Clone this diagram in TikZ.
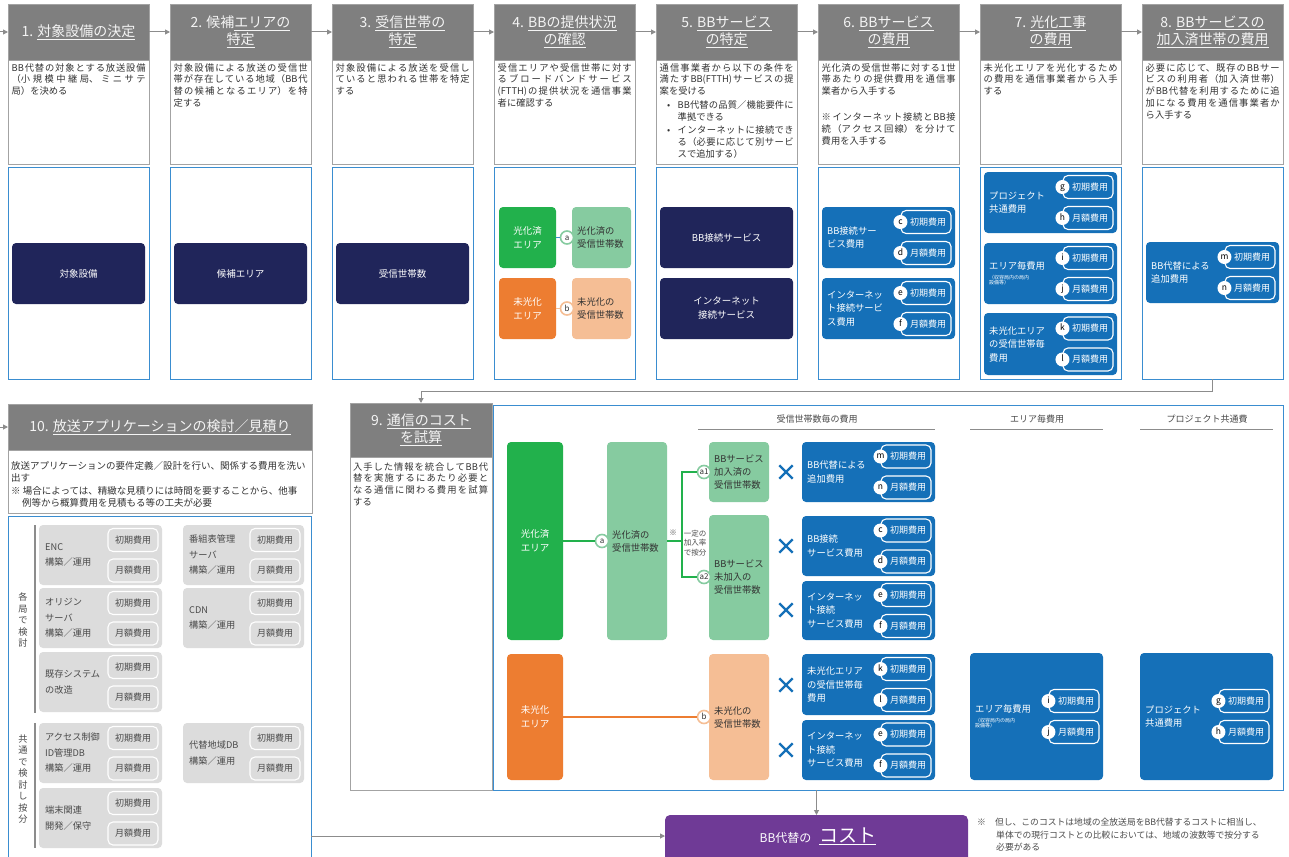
\documentclass[tikz,border=0pt]{standalone}
\usepackage{fontspec}
\setmainfont{Noto Sans CJK JP}
\usetikzlibrary{arrows.meta,shapes.misc}
\XeTeXlinebreaklocale "ja"
\XeTeXlinebreakskip=0pt plus 3pt
\XeTeXlinebreakpenalty=10000
\definecolor{hdr}{HTML}{7F7F7F}
\definecolor{hdrline}{HTML}{A3A3A3}
\definecolor{hdrtxt}{HTML}{F4F4F4}
\definecolor{navy}{HTML}{20255A}
\definecolor{grn}{HTML}{22B14C}
\definecolor{lgrn}{HTML}{86CBA0}
\definecolor{org}{HTML}{ED7D31}
\definecolor{lorg}{HTML}{F5BE95}
\definecolor{blu}{HTML}{1570B8}
\definecolor{bord}{HTML}{3A8DD0}
\definecolor{gbox}{HTML}{DCDCDC}
\definecolor{purp}{HTML}{6F3A96}
\definecolor{txt}{HTML}{333333}
\definecolor{gtxt}{HTML}{4A4A4A}
\definecolor{gline}{HTML}{8C8C8C}

\tikzset{
 hdrbox/.style={fill=hdr,draw=hdrline,line width=0.8pt},
 bodybox/.style={fill=white,draw=hdrline,line width=0.8pt},
 midbox/.style={fill=white,draw=bord,line width=1pt},
 hdrtext/.style={text=hdrtxt,font=\fontsize{14}{17}\selectfont,align=center,inner sep=0pt},
 bodytext/.style={text=txt,font=\fontsize{9.3}{11.9}\selectfont,align=left,anchor=north west,inner sep=0pt},
 navybox/.style={fill=navy,rounded corners=4pt,text=white,font=\fontsize{9.5}{14}\selectfont,align=center},
 grnbox/.style={fill=grn,rounded corners=4pt,text=white,font=\fontsize{9.5}{14}\selectfont,align=center},
 lgrnbox/.style={fill=lgrn,rounded corners=4pt},
 orgbox/.style={fill=org,rounded corners=4pt,text=white,font=\fontsize{9.5}{14}\selectfont,align=center},
 lorgbox/.style={fill=lorg,rounded corners=4pt},
 dtext/.style={text=txt,font=\fontsize{9.3}{13}\selectfont,align=left,inner sep=0pt},
 bluebox/.style={fill=blu,rounded corners=4pt},
 bluelabel/.style={text=white,font=\fontsize{9.3}{13.5}\selectfont,align=left,inner sep=0pt},
 pill/.style={fill=blu,draw=white,line width=1.1pt,rounded corners=5pt,minimum width=50pt,minimum height=23pt,inner sep=0pt,text=white,font=\fontsize{9}{10}\selectfont},
 letc/.style={circle,fill=white,minimum size=14pt,inner sep=0pt,text=black,font=\fontsize{8.5}{8.5}\selectfont,text height=4.6pt,text depth=0pt},
 gcirc/.style={circle,fill=white,draw=lgrn,line width=1.6pt,minimum size=13pt,inner sep=0.5pt,text=txt,font=\fontsize{8}{8}\selectfont,text height=5.5pt,text depth=0pt},
 ocirc/.style={circle,fill=white,draw=lorg,line width=1.6pt,minimum size=13pt,inner sep=0.5pt,text=txt,font=\fontsize{8}{8}\selectfont,text height=5.5pt,text depth=0pt},
 graybox/.style={fill=gbox,rounded corners=4pt},
 glabel/.style={text=gtxt,font=\fontsize{9.2}{15.5}\selectfont,align=left,inner sep=0pt},
 gpill/.style={fill=gbox,draw=white,line width=1.1pt,rounded corners=5pt,minimum width=50pt,minimum height=23pt,inner sep=0pt,text=gtxt,font=\fontsize{9}{10}\selectfont},
 vlabel/.style={text=gtxt,font=\fontsize{9.2}{11.5}\selectfont,align=center,inner sep=0pt},
 coltitle/.style={text=gtxt,font=\fontsize{9}{11}\selectfont,inner sep=0pt},
 xmark/.style={cross out,draw=blu,line width=2.4pt,minimum size=11pt,inner sep=0pt},
 conn/.style={draw=gline,line width=1pt,-{Triangle[length=5pt,width=5pt]}},
 gconn/.style={draw=grn,line width=1.2pt},
 oconn/.style={draw=org,line width=1.2pt},
 purpbox/.style={fill=purp,rounded corners=5pt,text=white},
 notetext/.style={text=gtxt,font=\fontsize{8.8}{12.5}\selectfont,align=left,inner sep=0pt,anchor=north west}
}

\newcommand\jl[2][134pt]{\parbox[b]{#1}{\parfillskip=0pt\relax #2}}

\newcommand\bx[7]{\node[#2,minimum width={#5-#3},minimum height={#6-#4},inner sep=0pt,outer sep=0pt] (#1) at ({(#3+#5)/2},{(#4+#6)/2}) {#7};}

\newcommand\topcol[4]{%
 \bx{h#1}{hdrbox}{#2}{4}{#2+141}{60}{}%
 \bx{b#1}{bodybox}{#2}{60}{#2+141}{164}{}%
 \bx{m#1}{midbox}{#2}{167}{#2+141}{379}{}%
 \node[hdrtext] (ht#1) at (h#1) {#3};%
 \node[bodytext] (bt#1) at ({#2+3.5},63) {#4};%
}

\newcommand\costbox[8]{%
 \bx{#1}{bluebox}{#2}{#3}{#4}{#5}{}%
 \node[bluelabel,anchor=west] (#1t) at ({#2+5},{(#3+#5)/2}) {#6};%
 \node[pill] (#1p) at ({#4-29},{(#3+#5)/2-15.5}) {\hspace*{4pt}初期費用};%
 \node[pill] (#1q) at ({#4-29},{(#3+#5)/2+15.5}) {\hspace*{4pt}月額費用};%
 \node[letc] (#1c) at (#1p.west) {#7};%
 \node[letc] (#1d) at (#1q.west) {#8};%
}

\newcommand\graycost[6]{%
 \bx{#1}{graybox}{#2}{#3}{#4}{#5}{}%
 \node[glabel,anchor=west] (#1t) at ({#2+6},{(#3+#5)/2}) {#6};%
 \node[gpill] (#1p) at ({#4-29},{(#3+#5)/2-15}) {初期費用};%
 \node[gpill] (#1q) at ({#4-29},{(#3+#5)/2+15.5}) {月額費用};%
}

\begin{document}
\begin{tikzpicture}[x=1pt,y=-1pt]
\useasboundingbox (0,0) rectangle (1289,856);

% ---------- top row ----------
\topcol{1}{8}{1. \underline{対象設備の決定}}{\jl{BB代替の対象とする放送設備}\\\jl{（小規模中継局、ミニサテ}\\局）を決める}
\topcol{2}{170}{2. 候補\underline{エリアの}\\\underline{特定}}{\jl{対象設備による放送の受信世}\\\jl{帯が存在している地域（BB代}\\\jl{替の候補となるエリア）を特}\\定する}
\topcol{3}{332}{3. \underline{受信世帯の}\\\underline{特定}}{\jl{対象設備による放送を受信し}\\\jl{ていると思われる世帯を特定}\\する}
\topcol{4}{494}{4. \underline{BBの提供状況}\\\underline{の確認}}{\jl{受信エリアや受信世帯に対す}\\\jl{るブロードバンドサービス}\\\jl{(FTTH)の提供状況を通信事業}\\者に確認する}
\topcol{5}{656}{5. \underline{BBサービス}\\\underline{の特定}}{\jl{通信事業者から以下の条件を}\\\jl{満たすBB(FTTH)サービスの提}\\案を受ける\\[1.5pt]\makebox[18pt][c]{•}\jl[116pt]{BB代替の品質／機能要件に}\\\hspace*{18pt}準拠できる\\[1.5pt]\makebox[18pt][c]{•}\jl[116pt]{インターネットに接続でき}\\\hspace*{18pt}\jl[116pt]{る（必要に応じて別サービ}\\\hspace*{18pt}スで追加する）}
\topcol{6}{818}{6. \underline{BBサービス}\\\underline{の費用}}{\jl{光化済の受信世帯に対する1世}\\\jl{帯あたりの提供費用を通信事}\\業者から入手する\\[14pt]\jl{※\,インターネット接続とBB接}\\\jl{続（アクセス回線）を分けて}\\費用を入手する}
\topcol{7}{980}{7. \underline{光化工事}\\\underline{の費用}}{\jl{未光化エリアを光化するため}\\\jl{の費用を通信事業者から入手}\\する}
\topcol{8}{1142}{8. \underline{BBサービスの}\\\underline{加入済世帯の費用}}{\jl{必要に応じて、既存のBBサー}\\\jl{ビスの利用者（加入済世帯）}\\\jl{がBB代替を利用するために追}\\\jl{加になる費用を通信事業者か}\\ら入手する}

\coordinate (in1) at (0,32);
\draw[conn] (in1) -- (h1.west);
\foreach \i [evaluate=\i as \j using int(\i+1)] in {1,...,7} {\draw[conn] (h\i.east) -- (h\j.west);}

% ---------- middle row contents ----------
\bx{n1}{navybox}{12}{243}{145}{304}{対象設備}
\bx{n2}{navybox}{174}{243}{307}{304}{候補エリア}
\bx{n3}{navybox}{336}{243}{469}{304}{受信世帯数}

\bx{g4}{grnbox}{499}{207}{556}{268}{光化済\\エリア}
\bx{lg4}{lgrnbox}{572}{207}{631}{268}{}
\node[dtext,anchor=west] (lg4t) at (577,237.5) {光化済の\\受信世帯数};
\bx{o4}{orgbox}{499}{278}{556}{339}{未光化\\エリア}
\bx{lo4}{lorgbox}{572}{278}{631}{339}{}
\node[dtext,anchor=west] (lo4t) at (577,308.5) {未光化の\\受信世帯数};
\node[gcirc] (a4) at (567,237.5) {a};
\node[ocirc] (b4) at (567,308.5) {b};
\draw[draw=bord,line width=1pt] (g4) -- (a4);
\draw[draw=lorg,line width=1pt] (o4) -- (b4);

\bx{s5a}{navybox}{660}{207}{793}{268}{BB接続サービス}
\bx{s5b}{navybox}{660}{278}{793}{339}{インターネット\\接続サービス}

\costbox{c6a}{822}{207}{955}{268}{BB接続サー\\ビス費用}{c}{d}
\costbox{c6b}{822}{278}{955}{339}{インターネッ\\ト接続サービ\\ス費用}{e}{f}

\costbox{c7a}{984}{172}{1117}{233}{プロジェクト\\共通費用}{g}{h}
\costbox{c7b}{984}{243}{1117}{304}{エリア毎費用\\[-4pt]{\fontsize{5}{6}\selectfont （収容局内の局内}\\[-8pt]{\fontsize{5}{6}\selectfont 設備等）}}{i}{j}
\costbox{c7c}{984}{313}{1117}{375}{未光化エリア\\の受信世帯毎\\費用}{k}{l}

\costbox{c8}{1146}{242}{1279}{303}{BB代替による\\追加費用}{m}{n}

% ---------- section 10 ----------
\bx{h10}{hdrbox}{8}{404}{312}{450}{}
\node[hdrtext] (ht10) at (h10) {10. \underline{放送アプリケーションの検討／見積り}};
\bx{b10}{bodybox}{8}{450}{312}{513}{}
\node[bodytext,font=\fontsize{9.5}{12}\selectfont] (bt10) at (11,461) {放送アプリケーションの要件定義／設計を行い、関係する費用を洗い\\出す\\[1pt]※ 場合によっては、精緻な見積りには時間を要することから、他事\\\hspace*{11pt}例等から概算費用を見積もる等の工夫が必要};
\bx{s10}{midbox}{8}{516}{311}{862}{}
\coordinate (in10) at (0,427);
\draw[conn] (in10) -- (h10.west);

\draw[gline,line width=1.2pt] (35,525) -- (35,713);
\draw[gline,line width=1.2pt] (35,723) -- (35,848);
\node[vlabel] (v1) at (23,620) {各\\局\\で\\検\\討};
\node[vlabel] (v2) at (23,779) {共\\通\\で\\検\\討\\し\\按\\分};

\graycost{L1}{39}{525}{162}{585}{ENC\\構築／運用}
\graycost{L2}{39}{588}{162}{648}{オリジン\\サーバ\\構築／運用}
\graycost{L3}{39}{652}{162}{712}{既存システム\\の改造}
\graycost{L4}{39}{723}{162}{783}{アクセス制御\\ID管理DB\\構築／運用}
\graycost{L5}{39}{788}{162}{848}{端末関連\\開発／保守}
\graycost{R1}{183}{525}{304}{585}{番組表管理\\サーバ\\構築／運用}
\graycost{R2}{183}{588}{304}{648}{CDN\\構築／運用}
\graycost{R3}{183}{723}{304}{783}{代替地域DB\\構築／運用}

% ---------- section 9 ----------
\bx{h9}{hdrbox}{350}{403}{492}{457}{}
\node[hdrtext] (ht9) at (h9) {9. \underline{通信のコスト}\\\underline{を試算}};
\bx{b9}{bodybox}{350}{457}{492}{790}{}
\node[bodytext] (bt9) at (353,462) {\jl[135pt]{入手した情報を統合してBB代}\\\jl[135pt]{替を実施するにあたり必要と}\\\jl[135pt]{なる通信に関わる費用を試算}\\する};
\bx{big}{midbox}{493}{405}{1283}{790}{}

\draw[conn] (m8.south) -- ++(0,12) -| (h9.north);

\node[coltitle] (ct1) at (817,419) {受信世帯数毎の費用};
\node[coltitle] (ct2) at (1037,419) {エリア毎費用};
\node[coltitle] (ct3) at (1207,419) {プロジェクト共通費};
\draw[gline,line width=1pt] (698,429) -- (935,429);
\draw[gline,line width=1pt] (970,429) -- (1103,429);
\draw[gline,line width=1pt] (1140,429) -- (1273,429);

\bx{g9}{grnbox}{507}{442}{563}{640}{光化済\\エリア}
\bx{lg9}{lgrnbox}{607}{442}{667}{640}{}
\node[dtext,anchor=west] (lg9t) at (612,541) {光化済の\\受信世帯数};
\node[gcirc] (a9) at (602,541) {a};
\draw[gconn] (g9) -- (a9);

\coordinate (jn) at (682,541);
\draw[gconn] (lg9.east |- jn) -- (jn);
\bx{a1b}{lgrnbox}{709}{442}{769}{502}{}
\node[dtext,anchor=west] (a1t) at (714,472) {BBサービス\\加入済の\\受信世帯数};
\bx{a2b}{lgrnbox}{709}{515}{769}{640}{}
\node[dtext,anchor=west] (a2t) at (714,577) {BBサービス\\未加入の\\受信世帯数};
\node[gcirc] (a1c) at (704,472) {a1};
\node[gcirc] (a2c) at (704,577) {a2};
\draw[gconn] (a1c.west) -| (jn) |- (a2c.west);
\node[text=gtxt,font=\fontsize{7.5}{9.5}\selectfont,inner sep=0pt] (nt1) at (673,533) {※};
\node[text=gtxt,font=\fontsize{7.5}{9.5}\selectfont,align=center,fill=white,inner sep=1pt] (nt2) at (695,543) {一定の\\加入率\\で按分};

\bx{o9}{orgbox}{507}{654}{563}{780}{未光化\\エリア}
\bx{lo9}{lorgbox}{709}{654}{769}{780}{}
\node[dtext,anchor=west] (lo9t) at (714,717) {未光化の\\受信世帯数};
\node[ocirc] (b9) at (704,717) {b};
\draw[oconn] (o9) -- (b9);

\node[xmark] (x1) at (786,472) {};
\node[xmark] (x2) at (786,546) {};
\node[xmark] (x3) at (786,610) {};
\node[xmark] (x4) at (786,685) {};
\node[xmark] (x5) at (786,750) {};

\costbox{k1}{802}{442}{935}{502}{BB代替による\\追加費用}{m}{n}
\costbox{k2}{802}{516}{935}{576}{BB接続\\サービス費用}{c}{d}
\costbox{k3}{802}{581}{935}{640}{インターネッ\\ト接続\\サービス費用}{e}{f}
\costbox{k4}{802}{654}{935}{715}{未光化エリア\\の受信世帯毎\\費用}{k}{l}
\costbox{k5}{802}{720}{935}{780}{インターネッ\\ト接続\\サービス費用}{e}{f}
\costbox{k6}{970}{653}{1103}{780}{エリア毎費用\\[-4pt]{\fontsize{5}{6}\selectfont （収容局内の局内}\\[-8pt]{\fontsize{5}{6}\selectfont 設備等）}}{i}{j}
\costbox{k7}{1140}{653}{1273}{780}{プロジェクト\\共通費用}{g}{h}

% ---------- cost ----------
\bx{cost}{purpbox}{665}{815}{968}{862}{}
\node[text=white,inner sep=0pt] (costt) at (818,836) {\fontsize{12}{14}\selectfont BB代替の\hspace{8pt}{\fontsize{19}{22}\selectfont\underline{コスト}}};
\draw[conn] (big.south -| cost.north) -- (cost.north);
\draw[conn] (s10.east |- costt) -- (cost.west |- costt);

\node[notetext] (note) at (977,818) {※\hspace{9pt}但し、このコストは地域の全放送局をBB代替するコストに相当し、\\\hspace*{19pt}単体での現行コストとの比較においては、地域の波数等で按分する\\\hspace*{19pt}必要がある};
\end{tikzpicture}
\end{document}
